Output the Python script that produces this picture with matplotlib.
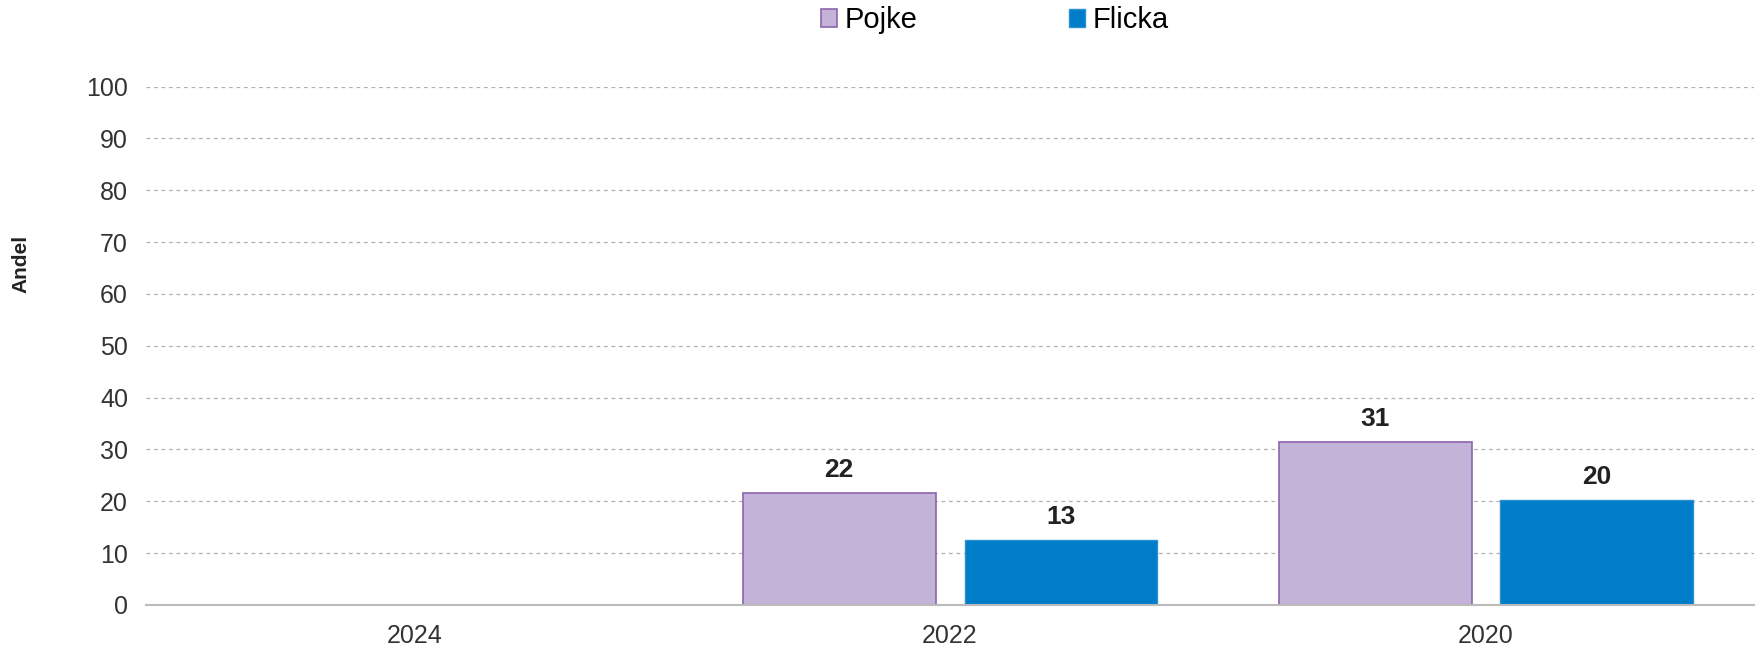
import numpy as np
import matplotlib
matplotlib.use("Agg")
import matplotlib.pyplot as plt

plt.rcParams['font.family'] = ['Liberation Sans', 'DejaVu Sans']

years = ['2024', '2022', '2020']
pojke = [np.nan, 21.6, 31.4]
flicka = [np.nan, 12.6, 20.3]

fig = plt.figure(figsize=(17.61, 6.48), dpi=100)
ax = fig.add_axes([0.083, 0.0664, 0.913, 0.80])

x = np.arange(len(years))
width = 0.36
off = 0.207

b1 = ax.bar(x - off, pojke, width, color='#C3B3D8', edgecolor='#8E63AE', linewidth=1.2, label='Pojke')
b2 = ax.bar(x + off, flicka, width, color='#007DC8', edgecolor='#2A90D4', linewidth=1.0, label='Flicka')

for rects, vals in ((b1, pojke), (b2, flicka)):
    for r, v in zip(rects, vals):
        if np.isnan(v):
            continue
        ax.annotate('%d' % round(v), (r.get_x() + r.get_width() / 2, v),
                    xytext=(0, 8), textcoords='offset points',
                    ha='center', va='bottom', fontsize=19, fontweight='bold', color='#222222')

ax.set_xlim(-0.5, 2.5)
ax.set_ylim(0, 100)
ax.set_yticks(range(0, 101, 10))
ax.set_xticks(x)
ax.set_xticklabels(years)
ax.tick_params(axis='both', length=0, labelsize=18, colors='#333333')
ax.tick_params(axis='y', pad=13)
ax.tick_params(axis='x', pad=14)

ax.yaxis.grid(True, linestyle=(0, (3, 3)), color='#B0B0B0', linewidth=0.9)
ax.set_axisbelow(True)
for s in ['top', 'right', 'left']:
    ax.spines[s].set_visible(False)
ax.spines['bottom'].set_color('#BBBBBB')
ax.spines['bottom'].set_linewidth(1.5)

fig.text(0.012, 1 - 264 / 648, 'Andel', rotation=90, ha='center', va='center',
         fontsize=15, fontweight='bold', color='#222222')

fig.legend(loc='center', bbox_to_anchor=(0.565, 0.969), ncol=2, frameon=False,
           fontsize=21, handlelength=0.55, handleheight=0.55, handletextpad=0.25,
           columnspacing=5.2)

fig.savefig('out.png', dpi=100)
